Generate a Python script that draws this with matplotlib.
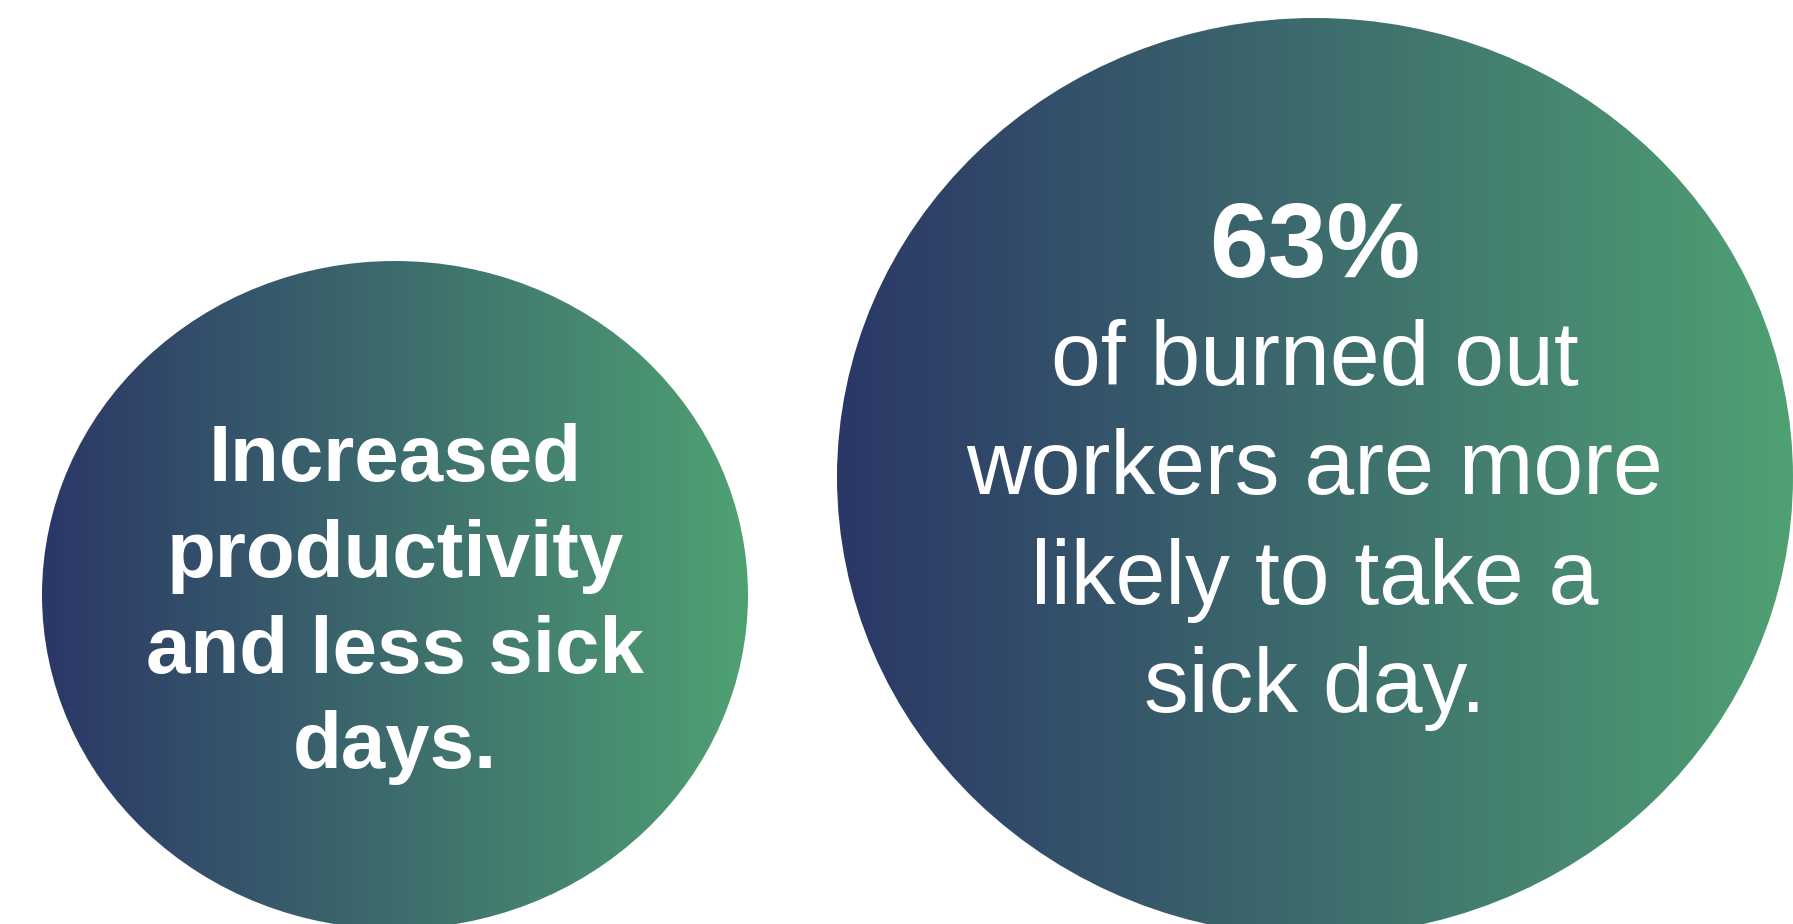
import numpy as np
import matplotlib
matplotlib.use("Agg")
import matplotlib.pyplot as plt
from matplotlib.patches import Ellipse
from matplotlib.colors import LinearSegmentedColormap

# texts of the two bubbles
left_lines = ["Increased", "productivity", "and less sick", "days."]
right_big = "63%"
right_lines = ["of burned out", "workers are more", "likely to take a", "sick day."]

W, H = 1793, 924
navy = "#2b3767"
green = "#4fa173"
cmap = LinearSegmentedColormap.from_list("bubble", [navy, green])

fig = plt.figure(figsize=(W / 100, H / 100), dpi=100)
ax = fig.add_axes([0, 0, 1, 1])
ax.set_xlim(0, W)
ax.set_ylim(H, 0)
ax.axis("off")

grad = np.linspace(0, 1, 256).reshape(1, -1)


def bubble(cx, cy, w, h):
    e = Ellipse((cx, cy), w, h, facecolor="none", edgecolor="none")
    ax.add_patch(e)
    im = ax.imshow(grad, cmap=cmap, aspect="auto",
                   extent=[cx - w / 2, cx + w / 2, cy + h / 2, cy - h / 2])
    im.set_clip_path(e)


bubble(395, 595, 706, 668)
bubble(1315, 477, 956, 918)

font = "Liberation Sans"

# left bubble: bold text
for line, y in zip(left_lines, [481, 577, 673, 768]):
    ax.text(395, y, line, color="white", fontsize=57.5, fontweight="bold",
            family=font, ha="center", va="baseline")

# right bubble
ax.text(1315, 277, right_big, color="white", fontsize=76, fontweight="bold",
        family=font, ha="center", va="baseline")
for line, y in zip(right_lines, [385, 494, 604, 712]):
    ax.text(1315, y, line, color="white", fontsize=64.5,
            family=font, ha="center", va="baseline")

ax.set_xlim(0, W)
ax.set_ylim(H, 0)
fig.savefig("out.png", dpi=100)
